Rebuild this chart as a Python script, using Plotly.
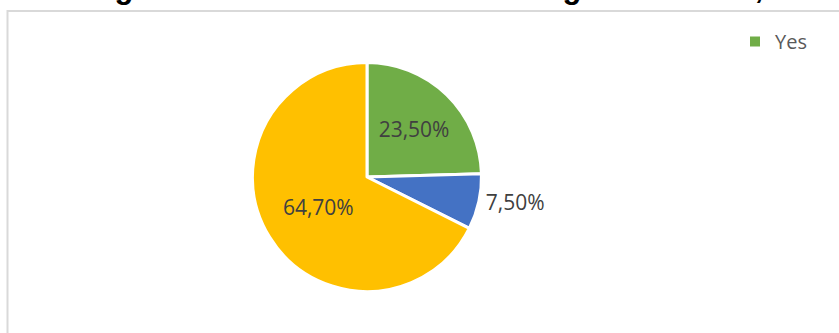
import plotly.graph_objects as go

# Survey answers (percent of respondents)
labels = ["Yes", "No", "Don't know"]
values = [23.5, 7.5, 64.7]
colors = ["#70ad47", "#4472c4", "#ffc000"]
label_positions = ["inside", "outside", "inside"]

title_text = "Figure 1. Local wisdom knowledge of Ternate, North Maluku"

W, H = 839, 333

# Percent labels written with a decimal comma
text_labels = [f"{v:.2f}%".replace(".", ",") for v in values]

fig = go.Figure()

fig.add_trace(go.Pie(
    labels=labels,
    values=values,
    text=text_labels,
    textinfo="text",
    textposition=label_positions,
    insidetextorientation="horizontal",
    sort=False,
    direction="clockwise",
    rotation=0,
    marker=dict(colors=colors, line=dict(color="white", width=3)),
    textfont=dict(family="Open Sans", size=21, color="#404040"),
    domain=dict(x=[(367 - 114.5) / W, (367 + 114.5) / W],
                y=[(156 - 114.5) / H, (156 + 114.5) / H]),
    showlegend=False,
    hoverinfo="label+text",
))

# Legend entry for the first category
fig.add_trace(go.Scatter(
    x=[None], y=[None],
    mode="markers",
    name=labels[0],
    marker=dict(symbol="square", size=10, color=colors[0]),
    showlegend=True,
))

# Chart frame
fig.add_shape(type="rect", xref="paper", yref="paper",
              x0=7.5 / W, x1=1.2, y0=-0.2, y1=1 - 11 / H,
              line=dict(color="#d9d9d9", width=2), fillcolor="rgba(0,0,0,0)",
              layer="below")

# Title (runs past the top and right edge of the frame)
fig.add_annotation(
    text=f"<b>{title_text}</b>",
    xref="paper", yref="paper",
    x=85 / W, y=1 - 7 / H,
    xanchor="left", yanchor="bottom",
    showarrow=False,
    font=dict(family="Liberation Sans", size=31, color="#000000"),
)

fig.update_layout(
    width=W, height=H,
    margin=dict(l=0, r=0, t=0, b=0),
    paper_bgcolor="white",
    plot_bgcolor="white",
    xaxis=dict(visible=False),
    yaxis=dict(visible=False),
    legend=dict(
        x=735 / W, y=1 - 22 / H,
        xanchor="left", yanchor="top",
        font=dict(family="Open Sans", size=20, color="#595959"),
        bgcolor="rgba(0,0,0,0)",
        itemwidth=30,
    ),
)

fig.write_html("out.html")
